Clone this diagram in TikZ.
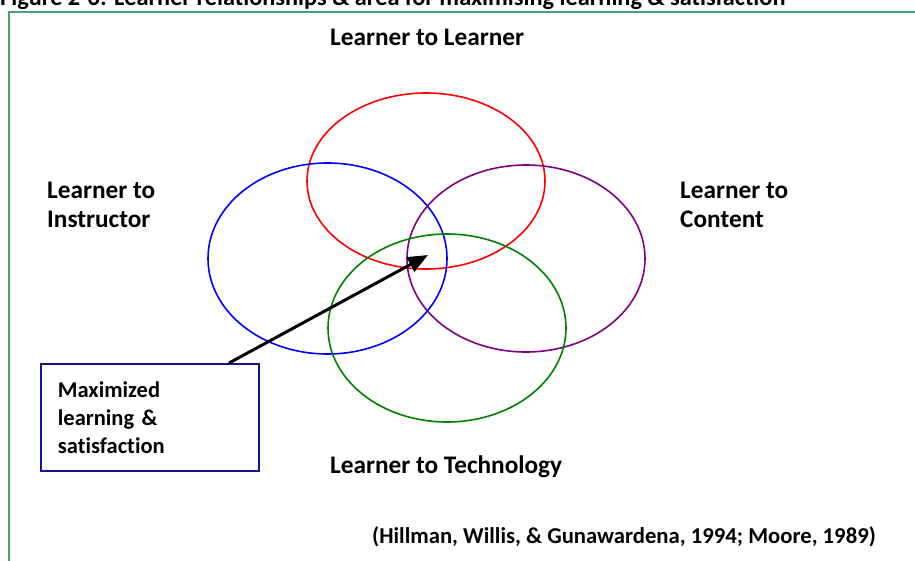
\documentclass[tikz,border=0pt]{standalone}
\usepackage{fontspec}
\setmainfont{Carlito}[Ligatures={NoCommon}]
\usetikzlibrary{arrows.meta}
\definecolor{framegreen}{RGB}{76,160,110}
\definecolor{boxnavy}{RGB}{20,20,140}
\definecolor{cpurple}{RGB}{128,0,128}
\definecolor{cgreen}{RGB}{0,128,0}
\tikzset{
  lbl/.style={font=\bfseries\fontsize{25.3}{29}\selectfont, inner sep=0pt, align=left},
  ring/.style={line width=1.6pt},
  boxnode/.style={draw=boxnavy, line width=1.8pt, fill=white, font=\bfseries\fontsize{22.5}{28}\selectfont,
    anchor=north west, minimum width=218pt, minimum height=107pt, text width=184pt,
    inner xsep=17pt, inner ysep=0pt, align=left},
}
\begin{document}
\begin{tikzpicture}[x=1pt,y=-1pt]
\useasboundingbox (0,0) rectangle (915,560);
% title (cut off at top, as in the reference)
\node[font=\bfseries\fontsize{24.3}{28}\selectfont, anchor=base west, inner sep=0pt] (title) at (0,5) {Figure 2-6: Learner relationships \& area for maximising learning \& satisfaction};
% frame
\draw[framegreen, line width=2.5pt] (9,600) -- (9,12) -- (930,12);
% circles
\draw[ring, red] (426,181) ellipse [x radius=119, y radius=88];
\draw[ring, blue] (327.5,258.5) ellipse [x radius=119.5, y radius=95.5];
\draw[ring, cpurple] (526,258.5) ellipse [x radius=119, y radius=93.5];
\draw[ring, cgreen] (447,328) ellipse [x radius=119, y radius=94];
% labels
\node[lbl, anchor=base west] (ll) at (330,45) {Learner to Learner};
\node[lbl, anchor=base west] (li) at (47,227) {Learner to\\Instructor};
\node[lbl, anchor=base west] (lc) at (680,227) {Learner to\\Content};
\node[lbl, anchor=base west] (lt) at (330,473) {Learner to Technology};
\node[font=\bfseries\fontsize{22.7}{27}\selectfont, anchor=base west, inner sep=0pt] (cite) at (372,543) {(Hillman, Willis, \& Gunawardena, 1994; Moore, 1989)};
% box and arrow
\node[boxnode] (box) at (40,363) {Maximized\\learning \&\\satisfaction};
\coordinate (tip) at (428,255);
\draw[line width=3pt, -{Triangle[length=20pt,width=16pt]}] (box.north west) ++(189,0) coordinate (start) -- (tip);
\end{tikzpicture}
\end{document}
